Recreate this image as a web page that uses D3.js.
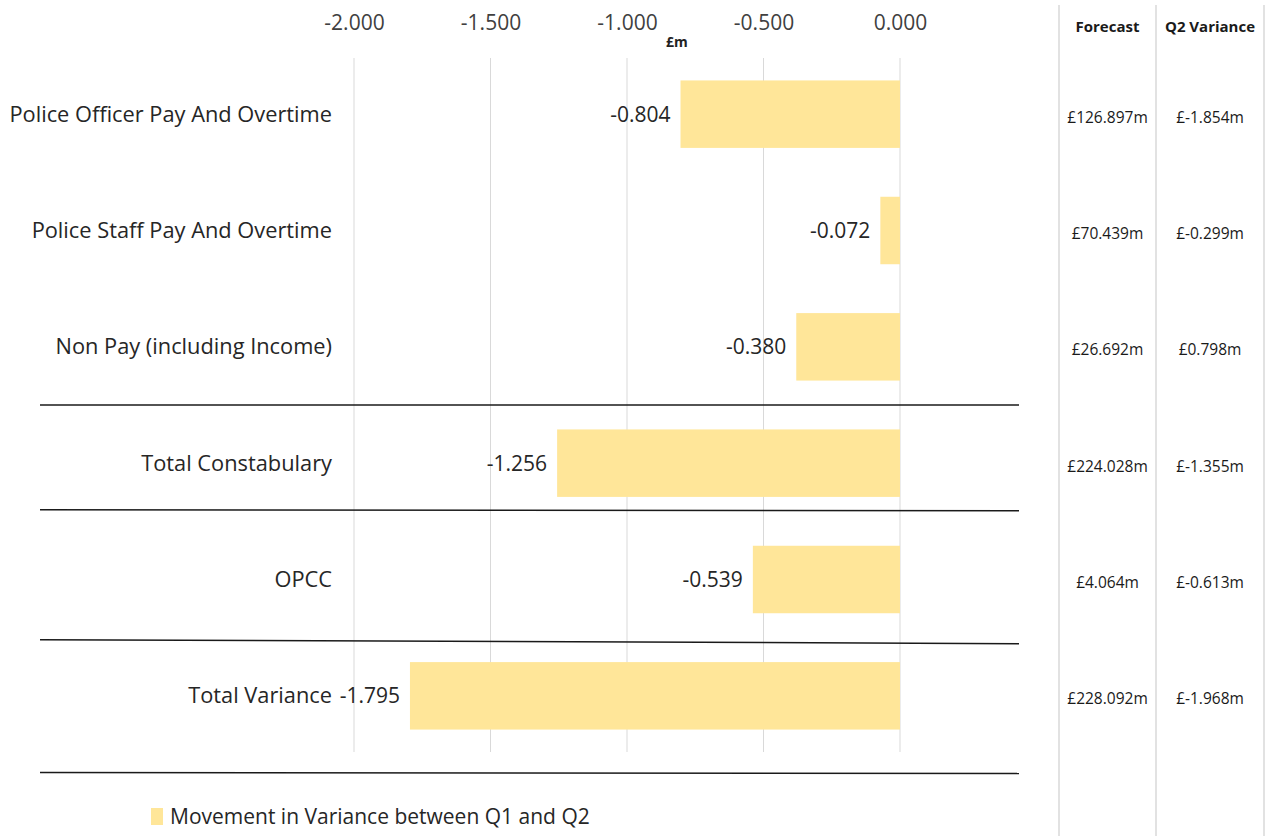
<!DOCTYPE html>
<html>
<head>
<meta charset="utf-8">
<script src="https://cdn.jsdelivr.net/npm/d3@7"></script>
<style>
  body { margin: 0; background: #fff; }
  text { font-family: "Open Sans", sans-serif; }
</style>
</head>
<body>
<div id="chart"></div>
<script>
(function () {

  // data
  var categories = ["Police Officer Pay And Overtime", "Police Staff Pay And Overtime",
    "Non Pay (including Income)", "Total Constabulary", "OPCC", "Total Variance"]
  var movement = [-0.804, -0.072, -0.380, -1.256, -0.539, -1.795]
  var forecast = ["£126.897m", "£70.439m", "£26.692m", "£224.028m", "£4.064m", "£228.092m"]
  var q2variance = ["£-1.854m", "£-0.299m", "£0.798m", "£-1.355m", "£-0.613m", "£-1.968m"]
  var ticks = [-2, -1.5, -1, -0.5, 0]
  var separatorsAfter = ["Non Pay (including Income)", "Total Constabulary", "OPCC", "Total Variance"]
  var legendLabel = "Movement in Variance between Q1 and Q2"

  var width = 1267,
      height = 836

  var svg = d3.select("#chart").append("svg")
      .attr("width", width)
      .attr("height", height)

  var x = d3.scaleLinear().domain([-2, 0]).range([354, 900])
  var y = d3.scaleBand().domain(categories).range([56, 754]).paddingInner(0.42).paddingOuter(0.21)

  // excel style numbers, plain hyphen for minus
  var fmt = function (d) { return d3.format(".3f")(d).replace("−", "-") }

  // gridlines
  svg.append("g").selectAll("line")
    .data(ticks).enter().append("line")
    .attr("x1", d => x(d)).attr("x2", d => x(d))
    .attr("y1", 58).attr("y2", 752)
    .attr("stroke", "#d9d9d9").attr("stroke-width", 1)

  // top axis labels
  var axis = svg.append("g")
    .attr("transform", "translate(0,33)")
    .call(d3.axisTop(x).tickValues(ticks).tickSize(0).tickFormat(fmt))
  axis.select(".domain").remove()
  axis.selectAll("text").attr("font-size", 21).attr("fill", "#404040")
    .style("font-family", "'Open Sans', sans-serif")

  svg.append("text")
    .attr("x", 677).attr("y", 47)
    .attr("text-anchor", "middle")
    .attr("font-size", 14).attr("font-weight", "bold").attr("fill", "#222")
    .text("£m")

  // bars
  svg.append("g").selectAll("rect")
    .data(movement).enter().append("rect")
    .attr("x", d => x(d))
    .attr("y", (d, i) => y(categories[i]))
    .attr("width", d => x(0) - x(d))
    .attr("height", y.bandwidth())
    .attr("fill", "#ffe699")

  // value labels
  svg.append("g").selectAll("text")
    .data(movement).enter().append("text")
    .attr("x", d => x(d) - 10)
    .attr("y", (d, i) => y(categories[i]) + y.bandwidth() / 2)
    .attr("dy", "0.35em")
    .attr("text-anchor", "end")
    .attr("font-size", 21).attr("fill", "#262626")
    .text(fmt)

  // category labels
  svg.append("g").selectAll("text")
    .data(categories).enter().append("text")
    .attr("x", 332)
    .attr("y", d => y(d) + y.bandwidth() / 2)
    .attr("dy", "0.35em")
    .attr("text-anchor", "end")
    .attr("font-size", 21.8).attr("fill", "#262626")
    .text(d => d)

  // separator lines under groups (hand drawn in the original, so nudged a bit)
  var nudge = [0, -11, 4, 19]
  var tilt = [0, 1, 4, 1]
  var sepY = (d, i) => y(d) + y.bandwidth() + (y.step() - y.bandwidth()) / 2 + nudge[i]
  svg.append("g").selectAll("line")
    .data(separatorsAfter).enter().append("line")
    .attr("x1", 40).attr("x2", 1019)
    .attr("y1", (d, i) => sepY(d, i) - tilt[i] / 2)
    .attr("y2", (d, i) => sepY(d, i) + tilt[i] / 2)
    .attr("stroke", "#1a1a1a").attr("stroke-width", 1.5)

  // side table
  var cols = [1059, 1156, 1264]
  svg.append("g").selectAll("line")
    .data(cols).enter().append("line")
    .attr("x1", d => d).attr("x2", d => d)
    .attr("y1", 5).attr("y2", height)
    .attr("stroke", "#d9d9d9").attr("stroke-width", 1.5)

  var headers = ["Forecast", "Q2 Variance"]
  svg.append("g").selectAll("text")
    .data(headers).enter().append("text")
    .attr("x", (d, i) => (cols[i] + cols[i + 1]) / 2)
    .attr("y", 32)
    .attr("text-anchor", "middle")
    .attr("font-size", 15).attr("font-weight", "bold").attr("fill", "#1a1a1a")
    .text(d => d)

  var tableCols = [forecast, q2variance]
  tableCols.forEach(function (vals, c) {
    svg.append("g").selectAll("text")
      .data(vals).enter().append("text")
      .attr("x", (cols[c] + cols[c + 1]) / 2)
      .attr("y", (d, i) => y(categories[i]) + y.bandwidth() / 2 + 3)
      .attr("dy", "0.35em")
      .attr("text-anchor", "middle")
      .attr("font-size", 15.5).attr("fill", "#1a1a1a")
      .text(d => d)
  })

  // legend
  var legend = svg.append("g").attr("transform", "translate(151,808)")
  legend.append("rect").attr("width", 12).attr("height", 17).attr("fill", "#ffe699")
  legend.append("text")
    .attr("x", 19).attr("y", 9).attr("dy", "0.35em")
    .attr("font-size", 21).attr("fill", "#262626")
    .text(legendLabel)

})()
</script>
</body>
</html>
